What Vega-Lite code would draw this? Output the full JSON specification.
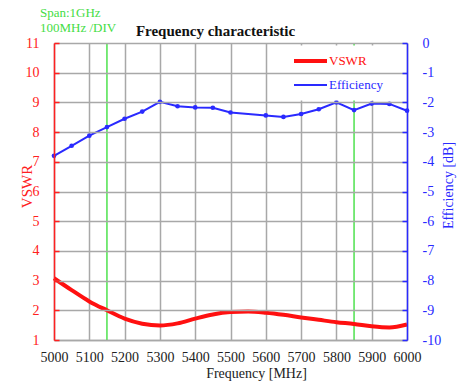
{
  "$schema": "https://vega.github.io/schema/vega-lite/v6.json",
  "width": 353,
  "height": 297,
  "autosize": {"type": "none"},
  "padding": {"left": 54, "top": 43, "right": 63, "bottom": 45},
  "background": "white",
  "title": {
    "text": "Frequency characteristic",
    "font": "Liberation Serif",
    "fontSize": 15,
    "fontWeight": "bold",
    "color": "#111111",
    "anchor": "middle",
    "frame": "group",
    "dx": -15,
    "offset": -32
  },
  "datasets": {
    "curves": [
      {"freq": 5000, "value": 3.08, "series": "VSWR"},
      {"freq": 5050, "value": 2.68, "series": "VSWR"},
      {"freq": 5100, "value": 2.3, "series": "VSWR"},
      {"freq": 5150, "value": 2.0, "series": "VSWR"},
      {"freq": 5200, "value": 1.72, "series": "VSWR"},
      {"freq": 5250, "value": 1.55, "series": "VSWR"},
      {"freq": 5300, "value": 1.49, "series": "VSWR"},
      {"freq": 5350, "value": 1.56, "series": "VSWR"},
      {"freq": 5400, "value": 1.72, "series": "VSWR"},
      {"freq": 5450, "value": 1.86, "series": "VSWR"},
      {"freq": 5500, "value": 1.94, "series": "VSWR"},
      {"freq": 5550, "value": 1.96, "series": "VSWR"},
      {"freq": 5600, "value": 1.92, "series": "VSWR"},
      {"freq": 5650, "value": 1.85, "series": "VSWR"},
      {"freq": 5700, "value": 1.76, "series": "VSWR"},
      {"freq": 5750, "value": 1.68, "series": "VSWR"},
      {"freq": 5800, "value": 1.6, "series": "VSWR"},
      {"freq": 5850, "value": 1.54, "series": "VSWR"},
      {"freq": 5900, "value": 1.46, "series": "VSWR"},
      {"freq": 5950, "value": 1.42, "series": "VSWR"},
      {"freq": 6000, "value": 1.52, "series": "VSWR"},
      {"freq": 5000, "value": -3.8, "series": "Efficiency"},
      {"freq": 5050, "value": -3.46, "series": "Efficiency"},
      {"freq": 5100, "value": -3.12, "series": "Efficiency"},
      {"freq": 5150, "value": -2.83, "series": "Efficiency"},
      {"freq": 5200, "value": -2.55, "series": "Efficiency"},
      {"freq": 5250, "value": -2.31, "series": "Efficiency"},
      {"freq": 5300, "value": -1.98, "series": "Efficiency"},
      {"freq": 5350, "value": -2.13, "series": "Efficiency"},
      {"freq": 5400, "value": -2.17, "series": "Efficiency"},
      {"freq": 5450, "value": -2.18, "series": "Efficiency"},
      {"freq": 5500, "value": -2.34, "series": "Efficiency"},
      {"freq": 5600, "value": -2.44, "series": "Efficiency"},
      {"freq": 5650, "value": -2.49, "series": "Efficiency"},
      {"freq": 5700, "value": -2.39, "series": "Efficiency"},
      {"freq": 5750, "value": -2.23, "series": "Efficiency"},
      {"freq": 5800, "value": -2.0, "series": "Efficiency"},
      {"freq": 5850, "value": -2.26, "series": "Efficiency"},
      {"freq": 5900, "value": -2.04, "series": "Efficiency"},
      {"freq": 5950, "value": -2.05, "series": "Efficiency"},
      {"freq": 6000, "value": -2.28, "series": "Efficiency"}
    ],
    "markers": [{"freq": 5150}, {"freq": 5850}],
    "notes": [{"note": "Span:1GHz\n100MHz /DIV"}]
  },
  "layer": [
    {
      "layer": [
        {
          "data": {"name": "markers"},
          "mark": {"type": "rule", "color": "#33dd33", "strokeWidth": 1.3},
          "encoding": {
            "x": {
              "field": "freq",
              "type": "quantitative",
              "scale": {"domain": [5000, 6000], "nice": false, "zero": false},
              "axis": {
                "title": "Frequency  [MHz]",
                "values": [5000, 5100, 5200, 5300, 5400, 5500, 5600, 5700, 5800, 5900, 6000],
                "format": "d",
                "grid": true,
                "gridColor": "#a8a8a8",
                "gridWidth": 1.5,
                "ticks": false,
                "domainColor": "#a8a8a8",
                "domainWidth": 1.5,
                "labelFont": "Liberation Serif",
                "labelFontSize": 14,
                "labelColor": "#222222",
                "labelPadding": 10,
                "labelOverlap": false,
                "labelFlush": false,
                "titleFont": "Liberation Serif",
                "titleFontSize": 14,
                "titleFontWeight": "normal",
                "titleColor": "#222222",
                "titlePadding": 0,
                "titleX": 202,
                "titleY": 26
              }
            }
          }
        },
        {
          "data": {"name": "curves"},
          "transform": [{"filter": "datum.series == 'VSWR'"}],
          "mark": {"type": "line", "interpolate": "monotone"},
          "encoding": {
            "x": {
              "field": "freq",
              "type": "quantitative",
              "scale": {"domain": [5000, 6000], "nice": false, "zero": false},
              "axis": {
                "title": "Frequency  [MHz]",
                "values": [5000, 5100, 5200, 5300, 5400, 5500, 5600, 5700, 5800, 5900, 6000],
                "format": "d",
                "grid": true,
                "gridColor": "#a8a8a8",
                "gridWidth": 1.5,
                "ticks": false,
                "domainColor": "#a8a8a8",
                "domainWidth": 1.5,
                "labelFont": "Liberation Serif",
                "labelFontSize": 14,
                "labelColor": "#222222",
                "labelPadding": 10,
                "labelOverlap": false,
                "labelFlush": false,
                "titleFont": "Liberation Serif",
                "titleFontSize": 14,
                "titleFontWeight": "normal",
                "titleColor": "#222222",
                "titlePadding": 0,
                "titleX": 202,
                "titleY": 26
              }
            },
            "y": {"field": "value", "type": "quantitative"},
            "color": {
              "field": "series",
              "type": "nominal",
              "scale": {"domain": ["VSWR", "Efficiency"], "range": ["#ff1010", "#2a2aff"]},
              "legend": {
                "orient": "none",
                "legendX": 241,
                "legendY": 2.5,
                "title": null,
                "symbolType": "M-3,0H3",
                "symbolSize": 121,
                "fillColor": "white",
                "padding": 8,
                "rowPadding": 9,
                "labelFont": "Liberation Serif",
                "labelFontSize": 13,
                "labelOffset": 11,
                "encode": {
                  "labels": {"update": {"fill": {"signal": "datum.value == 'VSWR' ? '#ff1010' : '#2a2aff'"}}}
                }
              }
            },
            "strokeWidth": {
              "field": "series",
              "type": "nominal",
              "scale": {"domain": ["VSWR", "Efficiency"], "range": [4, 2]},
              "legend": {
                "orient": "none",
                "legendX": 241,
                "legendY": 2.5,
                "title": null,
                "symbolType": "M-3,0H3",
                "symbolSize": 121,
                "fillColor": "white",
                "padding": 8,
                "rowPadding": 9,
                "labelFont": "Liberation Serif",
                "labelFontSize": 13,
                "labelOffset": 11,
                "encode": {
                  "labels": {"update": {"fill": {"signal": "datum.value == 'VSWR' ? '#ff1010' : '#2a2aff'"}}}
                }
              }
            }
          }
        },
        {
          "data": {"name": "notes"},
          "mark": {"type": "text", "align": "left", "baseline": "top", "font": "Liberation Serif", "fontSize": 13, "fill": "#44dd44", "lineHeight": 15, "lineBreak": "\n"},
          "encoding": {
            "x": {
              "datum": 4960.3,
              "type": "quantitative",
              "scale": {"domain": [5000, 6000], "nice": false, "zero": false},
              "axis": {
                "title": "Frequency  [MHz]",
                "values": [5000, 5100, 5200, 5300, 5400, 5500, 5600, 5700, 5800, 5900, 6000],
                "format": "d",
                "grid": true,
                "gridColor": "#a8a8a8",
                "gridWidth": 1.5,
                "ticks": false,
                "domainColor": "#a8a8a8",
                "domainWidth": 1.5,
                "labelFont": "Liberation Serif",
                "labelFontSize": 14,
                "labelColor": "#222222",
                "labelPadding": 10,
                "labelOverlap": false,
                "labelFlush": false,
                "titleFont": "Liberation Serif",
                "titleFontSize": 14,
                "titleFontWeight": "normal",
                "titleColor": "#222222",
                "titlePadding": 0,
                "titleX": 202,
                "titleY": 26
              }
            },
            "y": {"datum": 12.21, "type": "quantitative"},
            "text": {"field": "note"}
          }
        }
      ],
      "encoding": {
        "y": {
          "type": "quantitative",
          "scale": {"domain": [1, 11], "nice": false, "zero": false},
          "axis": {
            "title": "VSWR",
            "values": [1, 2, 3, 4, 5, 6, 7, 8, 9, 10, 11],
            "grid": true,
            "gridColor": "#a8a8a8",
            "gridWidth": 1.5,
            "domainColor": "#ff2020",
            "domainWidth": 1.5,
            "tickColor": "#ff2020",
            "tickSize": -5,
            "tickWidth": 1.5,
            "labelPadding": 20,
            "labelFont": "Liberation Serif",
            "labelFontSize": 14,
            "labelColor": "#ff2020",
            "titleFont": "Liberation Serif",
            "titleFontSize": 15,
            "titleFontWeight": "normal",
            "titleColor": "#ff2020",
            "titleX": -20,
            "titleY": 143,
            "zindex": 1
          }
        }
      }
    },
    {
      "data": {"name": "curves"},
      "transform": [{"filter": "datum.series == 'Efficiency'"}],
      "encoding": {
        "x": {
          "field": "freq",
          "type": "quantitative",
          "scale": {"domain": [5000, 6000], "nice": false, "zero": false},
          "axis": {
            "title": "Frequency  [MHz]",
            "values": [5000, 5100, 5200, 5300, 5400, 5500, 5600, 5700, 5800, 5900, 6000],
            "format": "d",
            "grid": true,
            "gridColor": "#a8a8a8",
            "gridWidth": 1.5,
            "ticks": false,
            "domainColor": "#a8a8a8",
            "domainWidth": 1.5,
            "labelFont": "Liberation Serif",
            "labelFontSize": 14,
            "labelColor": "#222222",
            "labelPadding": 10,
            "labelOverlap": false,
            "labelFlush": false,
            "titleFont": "Liberation Serif",
            "titleFontSize": 14,
            "titleFontWeight": "normal",
            "titleColor": "#222222",
            "titlePadding": 0,
            "titleX": 202,
            "titleY": 26
          }
        },
        "y": {
          "field": "value",
          "type": "quantitative",
          "scale": {"domain": [-10, 0], "nice": false, "zero": false},
          "axis": {
            "orient": "right",
            "title": "Efficiency [dB]",
            "values": [0, -1, -2, -3, -4, -5, -6, -7, -8, -9, -10],
            "labelExpr": "'' + datum.value",
            "grid": false,
            "domainColor": "#2a2aff",
            "domainWidth": 1.5,
            "tickColor": "#2a2aff",
            "tickSize": -5,
            "tickWidth": 1.5,
            "labelPadding": 20,
            "labelFont": "Liberation Serif",
            "labelFontSize": 14,
            "labelColor": "#2a2aff",
            "titleFont": "Liberation Serif",
            "titleFontSize": 14,
            "titleFontWeight": "normal",
            "titleColor": "#2a2aff",
            "titleAngle": 270,
            "titleX": 48,
            "titleY": 142,
            "zindex": 1
          }
        }
      },
      "layer": [
        {
          "mark": {"type": "line"},
          "encoding": {
            "color": {"field": "series", "type": "nominal"},
            "strokeWidth": {"field": "series", "type": "nominal"}
          }
        },
        {
          "mark": {"type": "point", "filled": true, "color": "#2a2aff", "size": 22, "opacity": 1},
          "encoding": {}
        }
      ]
    }
  ],
  "resolve": {"scale": {"y": "independent"}},
  "config": {
    "view": {"stroke": null},
    "axisX": {"labelOverlap": false, "labelFlush": false}
  }
}
